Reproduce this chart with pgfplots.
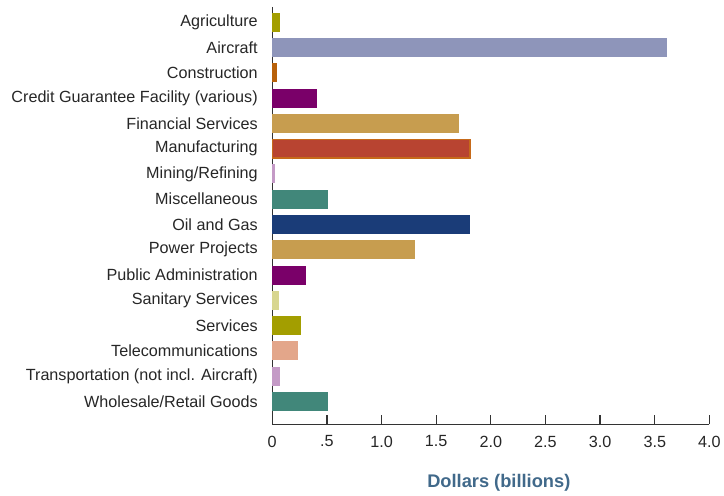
\documentclass[border=0pt]{standalone}
\usepackage{pgfplots}
\pgfplotsset{compat=1.18}
\usepackage{fontspec}
\setmainfont{Liberation Sans}
\definecolor{olive1}{HTML}{A39E00}
\definecolor{aircraft}{HTML}{8E95BA}
\definecolor{constr}{HTML}{B8610A}
\definecolor{purp}{HTML}{7A0069}
\definecolor{tan1}{HTML}{C79D4F}
\definecolor{manu}{HTML}{B84431}
\definecolor{manuedge}{HTML}{C66A1A}
\definecolor{lilac}{HTML}{C49AC6}
\definecolor{teal1}{HTML}{41877A}
\definecolor{navy1}{HTML}{1A3C78}
\definecolor{paley}{HTML}{D8D690}
\definecolor{salmon1}{HTML}{E3A68A}
\definecolor{titleblue}{HTML}{41698A}
\definecolor{axisgray}{HTML}{333333}
\begin{document}
\begin{tikzpicture}
\begin{axis}[
  scale only axis,
  width=438pt, height=418pt,
  xbar, bar shift=0pt, bar width=19pt,
  y dir=reverse,
  ymin=-0.6, ymax=15.9,
  xmin=0, xmax=4,
  axis x line=bottom, axis y line=left,
  axis line style={-, axisgray, line width=1.3pt},
  ytick={0,...,15},
  yticklabels={Agriculture,Aircraft,Construction,Credit Guarantee Facility (various),Financial Services,Manufacturing,Mining/Refining,Miscellaneous,Oil and Gas,Power Projects,Public Administration,Sanitary Services,Services,Telecommunications,Transportation (not incl. Aircraft),Wholesale/Retail Goods},
  ytick style={draw=none},
  xtick={0,0.5,...,4},
  xticklabels={0,.5,1.0,1.5,2.0,2.5,3.0,3.5,4.0},
  tick align=inside,
  major tick length=9pt,
  xtick style={axisgray, line width=1.3pt},
  /pgf/number format/assume math mode=true,
  ticklabel style={font=\fontsize{16.2}{19}\selectfont, text=black!85},
  yticklabel style={xshift=-11pt},
  xticklabel style={yshift=-8pt},
  xlabel={Dollars (billions)},
  xlabel style={font=\fontsize{18.3}{22}\selectfont\bfseries, text=titleblue, at={(axis description cs:0.5,0)}, anchor=center, yshift=-59pt, xshift=8pt},
  every axis plot/.append style={draw=none},
  clip=false,
]
\addplot[fill=olive1] coordinates {(0.07,0)};
\addplot[fill=aircraft] coordinates {(3.61,1)};
\addplot[fill=constr] coordinates {(0.045,2)};
\addplot[fill=purp] coordinates {(0.41,3)};
\addplot[fill=tan1] coordinates {(1.71,4)};
\addplot[fill=manu, draw=manuedge, line width=1.2pt] coordinates {(1.81,5)};
\addplot[fill=lilac] coordinates {(0.03,6)};
\addplot[fill=teal1] coordinates {(0.51,7)};
\addplot[fill=navy1] coordinates {(1.81,8)};
\addplot[fill=tan1] coordinates {(1.31,9)};
\addplot[fill=purp] coordinates {(0.31,10)};
\addplot[fill=paley] coordinates {(0.058,11)};
\addplot[fill=olive1] coordinates {(0.26,12)};
\addplot[fill=salmon1] coordinates {(0.24,13)};
\addplot[fill=lilac] coordinates {(0.07,14)};
\addplot[fill=teal1] coordinates {(0.51,15)};
\end{axis}
\path (current axis.south west) ++(-272.7pt,-71pt) rectangle ++(724pt,496pt);
\end{tikzpicture}
\end{document}
